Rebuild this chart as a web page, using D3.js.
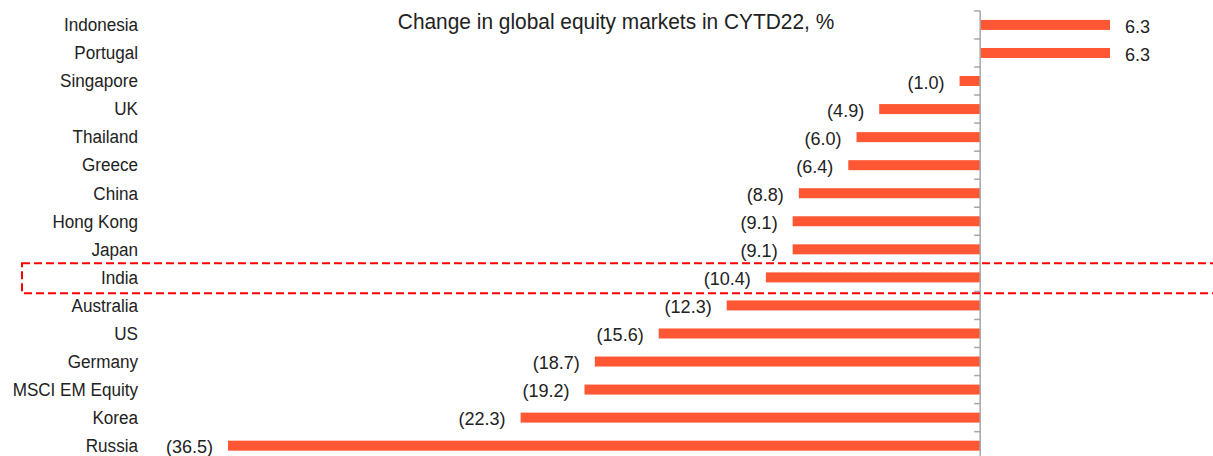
<!DOCTYPE html>
<html><head><meta charset="utf-8">
<script src="https://cdn.jsdelivr.net/npm/d3@7"></script>
<style>body{margin:0;background:#fff;} text{font-family:"Liberation Sans",Arial,sans-serif;fill:#222;}</style>
</head><body>
<svg id="c" width="1213" height="456"></svg>
<script>
const categories = ["Indonesia","Portugal","Singapore","UK","Thailand","Greece","China","Hong Kong","Japan","India","Australia","US","Germany","MSCI EM Equity","Korea","Russia"];
const values = [6.3,6.3,-1.0,-4.9,-6.0,-6.4,-8.8,-9.1,-9.1,-10.4,-12.3,-15.6,-18.7,-19.2,-22.3,-36.5];
const title = "Change in global equity markets in CYTD22, %";
const highlight = "India";

const svg = d3.select("#c");
const x = d3.scaleLinear().domain([-36.5, 6.3]).range([228, 1110]);
const band = d3.scaleBand().domain(categories).range([10.9, 10.9 + 28.05*16]);

function txt(g, s, tx, ty, anchor, fs, sx){
  return g.append("text").attr("transform", `translate(${tx},${ty}) scale(${sx},1)`)
    .attr("text-anchor", anchor).attr("dominant-baseline","central").style("font-size", fs+"px").text(s);
}

// bars
svg.append("g").selectAll("rect").data(values).join("rect")
  .attr("x", d => x(Math.min(0,d)))
  .attr("width", d => Math.abs(x(d)-x(0)))
  .attr("y", (d,i) => band(categories[i]) + band.bandwidth()/2 - 5)
  .attr("height", 10)
  .attr("fill", "#FF5733");

// axis
const axisG = svg.append("g").attr("transform", `translate(${x(0)},0)`);
axisG.append("line").attr("y1", band.range()[0]).attr("y2", band.range()[1]).attr("stroke","#a6a6a6").attr("stroke-width",1.5);
axisG.selectAll("line.t").data(d3.range(categories.length+1)).join("line").attr("class","t")
  .attr("x1",-6).attr("x2",0)
  .attr("y1", i => band.range()[0] + i*band.step()).attr("y2", i => band.range()[0] + i*band.step())
  .attr("stroke","#a6a6a6").attr("stroke-width",1.5);

// category labels
const lg = svg.append("g");
categories.forEach(c => txt(lg, c, 138, band(c)+band.bandwidth()/2, "end", 19, 0.9));

// value labels
const vg = svg.append("g");
values.forEach((v,i) => {
  const cy = band(categories[i]) + band.bandwidth()/2 + 1;
  if (v >= 0) txt(vg, d3.format(".1f")(v), x(v)+15, cy, "start", 19, 0.95);
  else txt(vg, "(" + d3.format(".1f")(-v) + ")", x(v)-15, cy, "end", 19, 0.95);
});

// title
txt(svg, title, 616, 22, "middle", 22, 0.95);

// highlight box
const hb = band(highlight);
svg.append("rect").attr("x", 22).attr("y", hb).attr("width", 1250).attr("height", 30)
  .attr("fill","none").attr("stroke","#ff0000").attr("stroke-width",2).attr("stroke-dasharray","8,4");
</script>
</body></html>
